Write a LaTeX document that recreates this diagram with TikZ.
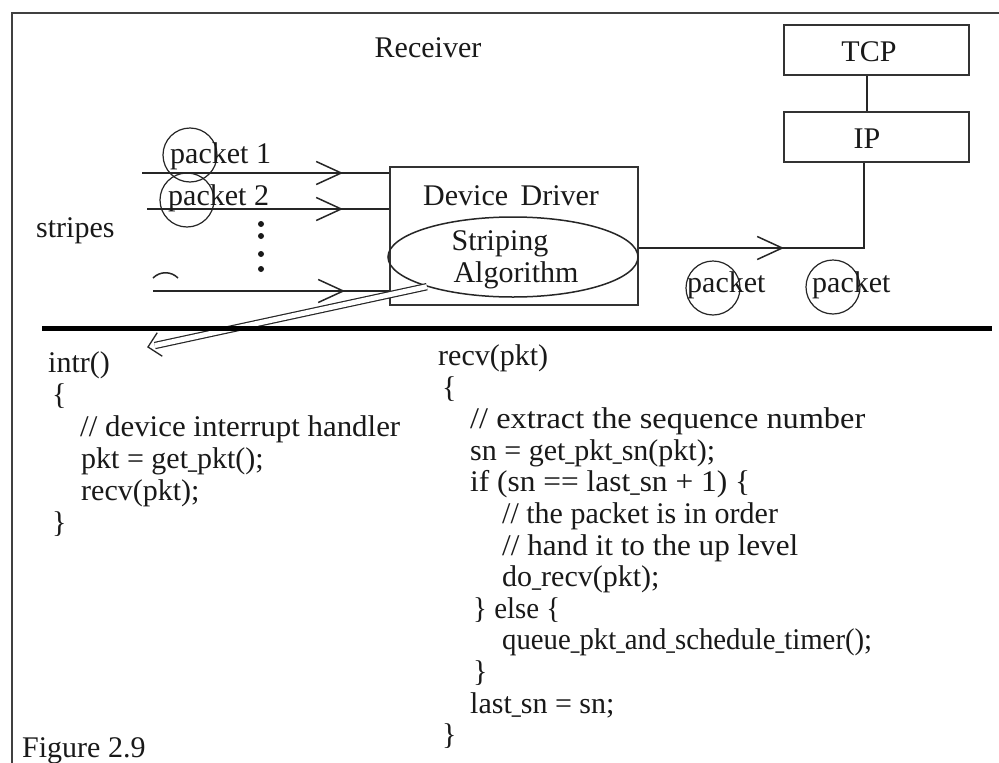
\documentclass[tikz,border=0pt]{standalone}
\usepackage{fontspec}
\setmainfont{Liberation Serif}
\usetikzlibrary{shapes.geometric,decorations.markings,arrows.meta,calc}
\newcommand\fitw[2]{\resizebox{#1pt}{\height}{#2}}
\newcommand\nus{\scalebox{0.6}[1]{\_}}
\begin{document}
\begin{tikzpicture}[x=1pt,y=-1pt,
  txt/.style={font=\fontsize{30}{32}\selectfont, inner sep=0pt, anchor=base west, text=black!90},
  ctxt/.style={font=\fontsize{30}{32}\selectfont, inner sep=0pt, anchor=base, text=black!90},
  box/.style={draw=black!80, line width=2pt, inner sep=0pt},
  ln/.style={draw=black!85, line width=1.5pt},
  pcirc/.style={draw=black!85, line width=1.2pt, circle, minimum size=54pt, inner sep=0pt},
  chev/.style={postaction={decorate}, decoration={markings, mark=at position #1 with {\arrow[black!85]{Straight Barb[length=25pt,width=23pt,line width=1.5pt]}}}},
]
\useasboundingbox (0,0) rectangle (999,763);
\fill[white] (0,0) rectangle (999,763);

% frame
\draw[draw=black!75, line width=2.5pt] (12,763) -- (12,13) -- (999,13);

% device driver and algorithm
\node[box, minimum width=248pt, minimum height=138pt] (dd) at (514,236) {};
\node[draw=black!85, line width=1.5pt, ellipse, minimum width=250pt, minimum height=80pt, inner sep=0pt] (sa) at (513,257) {};

% double arrow from the striping algorithm to intr()
\coordinate (at) at (148,347);
\draw[draw=black!85, line width=1.2pt, double=white, double distance=5pt] (sa.199) -- ($(at)!7pt!(sa.199)$);
\draw[ln, line width=1.3pt] ($(at)!17pt!-45:(sa.199)$) -- (at) -- ($(at)!17pt!45:(sa.199)$);

% separator
\draw[draw=black, line width=5pt] (42,328) -- (992,328);

\node[ctxt] (rcv) at (428,57) {Receiver};
\node[txt] (ddl) at (423,205) {Device\, Driver};
\node[ctxt] (sa1) at (500,250) {Striping};
\node[ctxt] (sa2) at (516,282) {Algorithm};

% TCP / IP
\node[box, minimum width=185pt, minimum height=50pt] (tcp) at (876.5,50) {};
\node[box, minimum width=185pt, minimum height=50pt] (ip) at (876.5,137) {};
\node[ctxt] (tcpl) at (869,61) {TCP};
\node[ctxt] (ipl) at (867,148) {IP};
\draw[ln] ([xshift=-9.5pt]tcp.south) -- ([xshift=-9.5pt]ip.north);
\coordinate (j) at (864,248);
\draw[ln, chev=145pt] (dd.east |- j) -- (j) -- (ip.south -| j);

% stripes
\node[txt] (stl) at (36,237) {stripes};
\coordinate (s1) at (142,173);
\coordinate (s2) at (147,209);
\coordinate (s3) at (153,291);
\draw[ln, chev=201pt] (s1) -- (s1 -| dd.west);
\draw[ln, chev=196pt] (s2) -- (s2 -| dd.west);
\draw[ln, chev=192pt] (s3) -- (s3 -| dd.west);
\node[pcirc] (pc1) at (190,155) {};
\node[pcirc] (pc2) at (187,200) {};
\node[txt] (p1) at (170,163) {packet 1};
\node[txt] (p2) at (168,205) {packet 2};
\draw[ln] (153,278) .. controls (160,271) and (171,271) .. (178,278);
\foreach \yy in {224,236,254,269} \fill[black!90] (261,\yy) circle (3pt);

% packets after driver
\node[pcirc] (pc3) at (713,288) {};
\node[pcirc] (pc4) at (833,287) {};
\node[txt] (p3) at (687,292) {packet};
\node[txt] (p4) at (812,292) {packet};

% left code
\node[txt] (c1) at (48,372) {intr()};
\node[txt] (c2) at (52,404) {\{};
\node[txt] (c3) at (80,436) {\fitw{320}{// device interrupt handler}};
\node[txt] (c4) at (81,468) {pkt = get\nus pkt();};
\node[txt] (c5) at (81,500) {recv(pkt);};
\node[txt] (c6) at (52,532) {\}};

% right code
\node[txt] (r1) at (438,365) {recv(pkt)};
\node[txt] (r2) at (442,397) {\{};
\node[txt] (r3) at (470,428) {\fitw{395}{// extract the sequence number}};
\node[txt] (r4) at (470,460) {sn = get\nus pkt\nus sn(pkt);};
\node[txt] (r5) at (470,491) {\fitw{280}{if (sn == last\nus sn + 1) \{}};
\node[txt] (r6) at (502,523) {// the packet is in order};
\node[txt] (r7) at (502,555) {\fitw{296}{// hand it to the up level}};
\node[txt] (r8) at (502,586) {do\nus recv(pkt);};
\node[txt] (r9) at (473,618) {\fitw{87}{\} else \{}};
\node[txt] (r10) at (502,649) {\fitw{370}{queue\nus pkt\nus and\nus schedule\nus timer();}};
\node[txt] (r11) at (473,681) {\}};
\node[txt] (r12) at (470,713) {last\nus sn = sn;};
\node[txt] (r13) at (442,744) {\}};

\node[txt] (fig) at (22,757) {Figure 2.9};
\end{tikzpicture}
\end{document}
